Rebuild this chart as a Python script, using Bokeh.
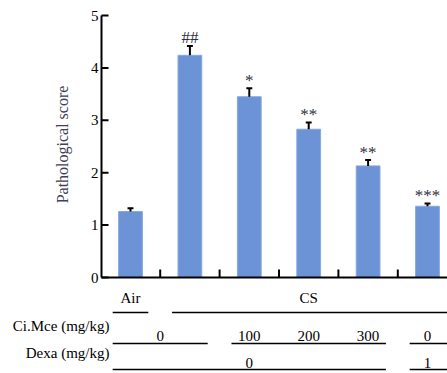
import math
from bokeh.plotting import figure
from bokeh.core.properties import value
from bokeh.embed import file_html
from bokeh.resources import INLINE

# ---- data ----
groups = ["Air", "CS", "CS", "CS", "CS", "CS"]
scores = [1.26, 4.24, 3.45, 2.83, 2.13, 1.36]
errors = [0.06, 0.18, 0.16, 0.13, 0.11, 0.05]
marks = ["", "##", "*", "**", "**", "***"]
y_ticks = [0, 1, 2, 3, 4, 5]
y_title = "Pathological  score"

row1_labels = ["Air", "CS"]
row1_spans = [(0, 0), (1, 5)]
ci_title = "Ci.Mce (mg/kg)"
ci_labels = ["0", "100", "200", "300", "0"]
ci_label_spans = [(0, 1), (2, 2), (3, 3), (4, 4), (5, 5)]
ci_line_spans = [(0, 1), (2, 4), (5, 5)]
dexa_title = "Dexa (mg/kg)"
dexa_labels = ["0", "1"]
dexa_spans = [(0, 4), (5, 5)]

FONT = "Liberation Serif"
SCALE = 52.4        # px per score unit
BASE = 277          # canvas y of score 0
W, H = 447, 373
X0, DX = 130, 59.4  # canvas x of first bar, spacing


def sx(px):
    """canvas x pixel -> data x"""
    return (px - X0) / DX


def below(px):
    return -px / SCALE


x_start, x_end = sx(0), sx(W)
y_end = BASE / SCALE
y_start = -(H - BASE) / SCALE
axis_x = sx(101)

p = figure(width=W, height=H, output_backend="svg", toolbar_location=None,
           x_range=(x_start, x_end), y_range=(y_start, y_end),
           x_axis_location=None, y_axis_location=None,
           min_border_left=0, min_border_right=0,
           min_border_top=0, min_border_bottom=0)
p.outline_line_color = None
p.grid.visible = False
p.background_fill_color = "white"

xs = list(range(len(scores)))
p.vbar(x=xs, top=scores, width=0.4, bottom=0, fill_color="#6b93d6",
       line_color="#86a8e0", line_width=1)

# error bars
tops = [s + e for s, e in zip(scores, errors)]
p.segment(x0=xs, y0=scores, x1=xs, y1=tops, line_color="black", line_width=2)
p.segment(x0=[x - 0.05 for x in xs], y0=tops, x1=[x + 0.05 for x in xs], y1=tops,
          line_color="black", line_width=2)

p.text(x=xs, y=tops, text=marks, text_font=value(FONT), text_font_size="17px",
       text_align="center", text_baseline="alphabetic", y_offset=-8,
       text_color="#303040")

# baseline and x ticks
p.segment(x0=[axis_x], y0=[0], x1=[x_end], y1=[0], line_color="black", line_width=2)
tick_x = [x + 0.5 for x in xs[:-1]]
p.segment(x0=tick_x, y0=[0] * len(tick_x), x1=tick_x, y1=[8 / SCALE] * len(tick_x),
          line_color="black", line_width=2)

# y axis (drawn in data space)
p.segment(x0=[axis_x], y0=[min(y_ticks)], x1=[axis_x], y1=[max(y_ticks)],
          line_color="black", line_width=2)
p.segment(x0=[axis_x] * len(y_ticks), y0=y_ticks,
          x1=[axis_x + 7 / DX] * len(y_ticks), y1=y_ticks,
          line_color="black", line_width=2)
p.text(x=[axis_x] * len(y_ticks), y=y_ticks, text=[str(t) for t in y_ticks],
       x_offset=-3, text_align="right", text_baseline="middle",
       text_font=value(FONT), text_font_size="15px", text_color="black")

p.text(x=[sx(62)], y=[(BASE - 142) / SCALE], text=[y_title], angle=math.pi / 2,
       text_align="center", text_baseline="middle",
       text_font=value(FONT), text_font_size="16px", text_color="#404058")

# ---- table below ----
def line_x(span):
    a, b = span
    left = a - 0.3
    right = b + 0.3 if b < 5 else x_end + 0.2
    return left, right


def draw_row(labels, label_spans, line_spans, ytext, yline):
    cx = [(a + b) / 2 for a, b in label_spans]
    p.text(x=cx, y=[ytext] * len(cx), text=labels, text_font=value(FONT),
           text_font_size="15px", text_align="center", text_baseline="middle",
           text_color="black")
    x0s, x1s = [], []
    for sp in line_spans:
        l, r = line_x(sp)
        x0s.append(l)
        x1s.append(r)
    p.segment(x0=x0s, y0=[yline] * len(x0s), x1=x1s, y1=[yline] * len(x0s),
              line_color="black", line_width=1.5)


draw_row(row1_labels, row1_spans, row1_spans, below(20), below(35))
draw_row(ci_labels, ci_label_spans, ci_line_spans, below(58), below(66))
draw_row(dexa_labels, dexa_spans, dexa_spans, below(85), below(92))

p.text(x=[sx(109)] * 2, y=[below(48), below(75)], text=[ci_title, dexa_title],
       text_align="right", text_baseline="middle",
       text_font=value(FONT), text_font_size="15px", text_color="black")

open("out.html", "w").write(file_html(p, INLINE))
